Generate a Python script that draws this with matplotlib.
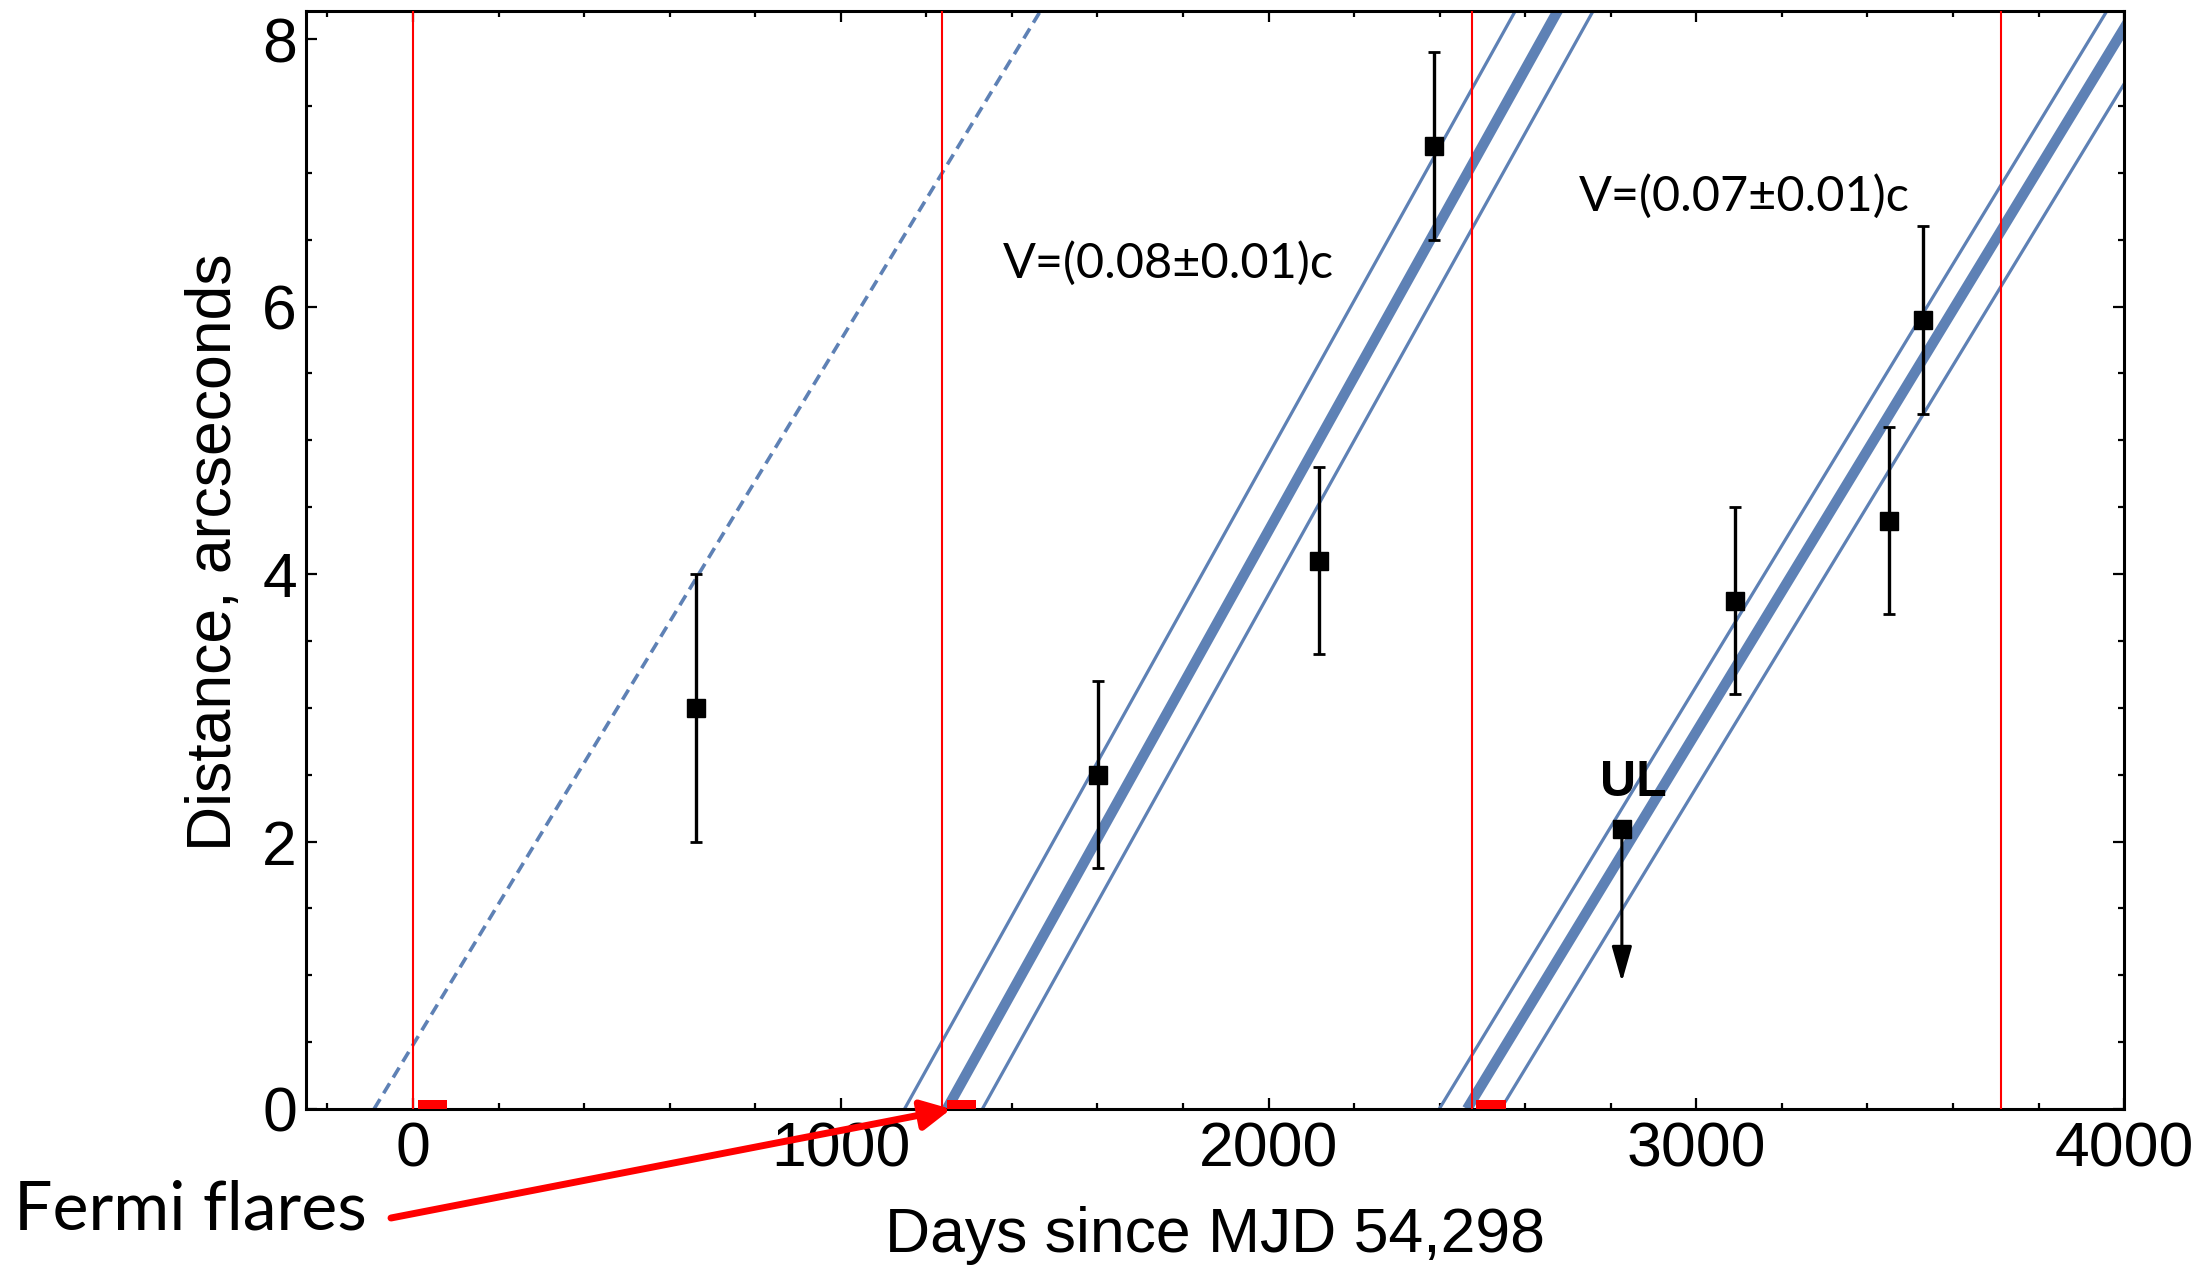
import matplotlib
matplotlib.use('Agg')
import matplotlib.pyplot as plt
import numpy as np
from matplotlib.ticker import MultipleLocator

plt.rcParams['font.family'] = ['Liberation Sans', 'DejaVu Sans']

BLUE = '#5E81B5'

# gamma-ray flare epochs (days) and the short flare intervals
flare_days = [0, 1237, 2475, 3712]
flare_start = [12, 1249, 2486]
flare_end = [80, 1317, 2555]
flare_mark = 0.07

# knot distance from the core
obs_days = [661, 1602, 2118, 2387, 3091, 3450, 3529]
obs_dist = [3.0, 2.5, 4.1, 7.2, 3.8, 4.4, 5.9]
obs_err = [1.0, 0.7, 0.7, 0.7, 0.7, 0.7, 0.7]

# upper limit point
ul_day = 2826
ul_dist = 2.09
ul_reach = 1.0

# ejection tracks: day of zero distance, band edges, rate in arcsec/day
track_zero = [1248, 2464]
track_lo = [1149, 2399]
track_hi = [1331, 2543]
track_rate = [0.00575, 0.00526]
track_text = ['V=(0.08±0.01)c', 'V=(0.07±0.01)c']
text_day = [1380, 2726]
text_dist = [6.32, 6.82]

# backward extrapolation of the later track
back_zero = -91
back_rate = 0.00527


def track(x0, rate):
    x = np.array([x0, x0 + 9.0 / rate])
    return x, rate * (x - x0)


fig = plt.figure(figsize=(22.05, 12.75), dpi=100)
ax = fig.add_axes([0.1388, 0.1302, 0.8245, 0.8612])

x, y = track(back_zero, back_rate)
ax.plot(x, y, color=BLUE, lw=2.6, dashes=(3.2, 1.9), zorder=2)

for z, lo, hi, r in zip(track_zero, track_lo, track_hi, track_rate):
    x, y = track(z, r)
    ax.plot(x, y, color=BLUE, lw=7.5, solid_capstyle='butt', zorder=2)
    for edge in (lo, hi):
        x, y = track(edge, r)
        ax.plot(x, y, color=BLUE, lw=2.3, zorder=2)

for d in flare_days:
    ax.axvline(d, color='red', lw=1.5, zorder=3)

ax.bar(flare_start, flare_mark, width=np.array(flare_end) - np.array(flare_start),
       align='edge', color='red', zorder=4)

ax.errorbar(obs_days, obs_dist, yerr=obs_err, fmt='s', color='black', ms=12.5,
            elinewidth=2.4, capsize=4.5, capthick=2.0, zorder=6)

ax.plot([ul_day], [ul_dist], 's', color='black', ms=12.5, zorder=6)
ax.annotate('', xy=(ul_day, ul_reach - 0.05), xytext=(ul_day, ul_dist),
            arrowprops=dict(arrowstyle='-|>,head_length=0.6,head_width=0.17',
                            color='black', lw=2.2, mutation_scale=36,
                            shrinkA=0, shrinkB=0), zorder=6)
ax.text(ul_day + 28, ul_dist + 0.35, 'UL', fontsize=36, fontweight='bold',
        ha='center', va='center')

for t, xd, yd in zip(track_text, text_day, text_dist):
    ax.text(xd, yd, t, fontsize=35, family=['Lato', 'DejaVu Sans'],
            ha='left', va='center')

ax.set_xlim(-250, 4000)
ax.set_ylim(0, 8.21)
ax.xaxis.set_major_locator(MultipleLocator(1000))
ax.xaxis.set_minor_locator(MultipleLocator(200))
ax.yaxis.set_major_locator(MultipleLocator(2))
ax.yaxis.set_minor_locator(MultipleLocator(0.5))
ax.tick_params(which='both', direction='in', top=True, right=True, width=1.6)
ax.tick_params(which='major', length=8, labelsize=45)
ax.tick_params(axis='x', which='major', pad=8)
ax.tick_params(axis='y', which='major', pad=6.5)
ax.tick_params(which='minor', length=4)
for s in ax.spines.values():
    s.set_linewidth(2.2)

ax.set_xlabel('Days since MJD 54,298', fontsize=45, va='top')
ax.xaxis.set_label_coords(0.5, -0.088)
ax.set_ylabel('Distance, arcseconds', fontsize=45)
ax.yaxis.set_label_coords(-0.034, 0.507)

ax.annotate('', xy=(1258, 0), xycoords='data',
            xytext=(391 / 2205, 1 - 1218 / 1275), textcoords='figure fraction',
            arrowprops=dict(arrowstyle='-|>,head_length=0.55,head_width=0.28',
                            color='red', lw=5.0, mutation_scale=32,
                            shrinkA=0, shrinkB=0),
            annotation_clip=False, zorder=7)
fig.text(14 / 2205, 1 - 1210 / 1275, 'Fermi flares', fontsize=49,
         family=['Lato', 'DejaVu Sans'], ha='left', va='center')

fig.savefig('out.png', dpi=100)
